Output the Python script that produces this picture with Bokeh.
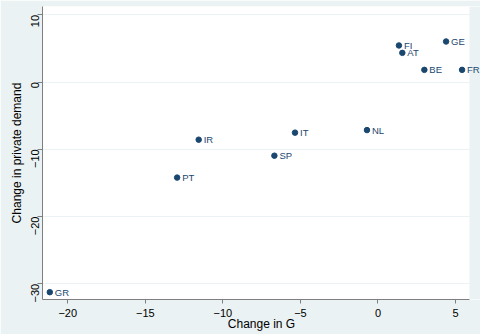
from bokeh.plotting import figure
from bokeh.models import Range1d, ColumnDataSource, FixedTicker, LabelSet, BoxAnnotation
from bokeh.core.properties import value
from bokeh.embed import file_html
from bokeh.resources import INLINE
import math

countries = ["GR", "PT", "IR", "SP", "IT", "NL", "FI", "AT", "BE", "GE", "FR"]
change_g = [-21.16, -12.95, -11.56, -6.68, -5.35, -0.71, 1.35, 1.57, 2.99, 4.39, 5.42]
change_private = [-31.25, -14.2, -8.56, -10.94, -7.51, -7.13, 5.46, 4.36, 1.83, 6.05, 1.83]
x_ticks = [-20, -15, -10, -5, 0, 5]
y_ticks = [-30, -20, -10, 0, 10]

X_MIN, X_MAX = -21.63, 5.9
Y_MIN, Y_MAX = -32.34, 11.26
BG = "#eaf2f3"
NAVY = "#1a476f"
FONT = "Liberation Sans"

src = ColumnDataSource(dict(x=change_g, y=change_private, label=countries))

# frame extends to the right window edge; the strip beyond X_MAX is painted as margin
px_per_unit = 427 / (X_MAX - X_MIN)
p = figure(frame_width=438, frame_height=293, output_backend="svg", toolbar_location=None,
           x_range=Range1d(X_MIN, X_MAX + 11 / px_per_unit), y_range=Range1d(Y_MIN, Y_MAX),
           min_border_left=42, min_border_right=0, min_border_top=6, min_border_bottom=35)
p.border_fill_color = BG
p.background_fill_color = "white"
p.outline_line_color = None

p.add_layout(BoxAnnotation(left=X_MAX, fill_color=BG, fill_alpha=1, line_color=None,
                           level="underlay"))

p.scatter("x", "y", source=src, size=5.5, color=NAVY)
labels = LabelSet(x="x", y="y", text="label", source=src, x_offset=5, y_offset=0,
                  text_baseline="middle", text_font_size="9.5px", text_color=NAVY,
                  text_font=value(FONT))
p.add_layout(labels)

p.xgrid.grid_line_color = None
p.ygrid.grid_line_color = BG
p.ygrid.grid_line_width = 1

p.xaxis.ticker = FixedTicker(ticks=x_ticks)
p.yaxis.ticker = FixedTicker(ticks=y_ticks)
p.xaxis.bounds = (X_MIN, X_MAX)
p.yaxis.major_label_orientation = math.pi / 2
for ax in (p.xaxis[0], p.yaxis[0]):
    ax.axis_line_color = "#7f7f7f"
    ax.major_tick_line_color = "#7f7f7f"
    ax.major_tick_in = 0
    ax.minor_tick_line_color = None
    ax.major_label_text_font = FONT
    ax.major_label_text_font_size = "11px"
    ax.major_label_text_color = "black"
    ax.axis_label_text_font = FONT
    ax.axis_label_text_font_size = "12px"
    ax.axis_label_text_font_style = "normal"
    ax.axis_label_text_color = "black"
p.xaxis.major_tick_out = 4
p.xaxis.major_label_standoff = 5
p.xaxis.axis_label_standoff = -3
p.yaxis.major_tick_out = 5
p.yaxis.major_label_standoff = 2
p.yaxis.axis_label_standoff = 1
p.xaxis.axis_label = "Change in G"
p.yaxis.axis_label = "Change in private demand"

open("out.html", "w").write(file_html(p, INLINE))
